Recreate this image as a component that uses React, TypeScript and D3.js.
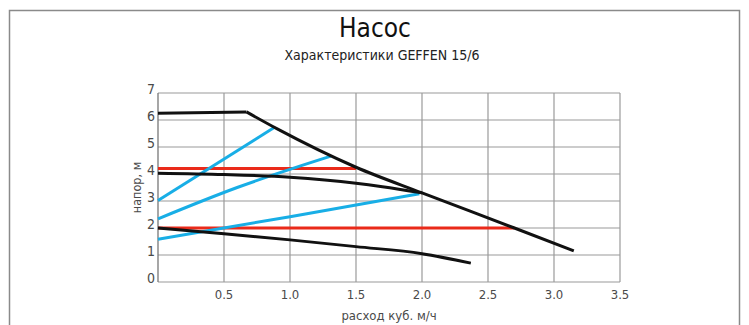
import React from "react";
import * as d3 from "d3";

const xTicks = [0.5, 1.0, 1.5, 2.0, 2.5, 3.0, 3.5];
const yTicks = [0, 1, 2, 3, 4, 5, 6, 7];

const blackMaxFlat: [number, number][] = [[0, 6.25], [0.67, 6.3]];
const blackMaxFall: [number, number][] = [[0.67, 6.3], [0.9, 5.68], [1.5, 4.25], [2.0, 3.3], [2.7, 2.0], [3.15, 1.15]];
const blackMid: [number, number][] = [[0, 4.03], [0.5, 3.98], [1.0, 3.88], [1.5, 3.66], [1.7, 3.53], [2.0, 3.3]];
const blackLow: [number, number][] = [[0, 2.0], [0.5, 1.79], [1.0, 1.56], [1.5, 1.31], [2.0, 1.05], [2.37, 0.7]];
const redHigh: [number, number][] = [[0, 4.2], [1.5, 4.2]];
const redLow: [number, number][] = [[0, 2.0], [2.7, 2.0]];
const blue1: [number, number][] = [[0, 3.02], [0.88, 5.72]];
const blue2: [number, number][] = [[0, 2.34], [0.6, 3.5], [1.31, 4.66]];
const blue3: [number, number][] = [[0, 1.58], [1.0, 2.42], [1.98, 3.27]];

const FONT = "'Liberation Sans Narrow', 'DejaVu Sans Condensed', 'Open Sans', sans-serif";

export default function App() {
  const W = 749, H = 325;
  const x = d3.scaleLinear().domain([0, 3.5]).range([158, 620]);
  const y = d3.scaleLinear().domain([0, 7]).range([282, 93]);
  const line = d3.line<[number, number]>().x(d => x(d[0])).y(d => y(d[1]));
  const smooth = d3.line<[number, number]>().x(d => x(d[0])).y(d => y(d[1])).curve(d3.curveMonotoneX);

  const BLUE = "#18aee6";
  const RED = "#ea2a1a";
  const BLACK = "#111111";
  const LABEL = "#4a4a4a";

  return (
    <svg width={W} height={H} style={{ position: "absolute", left: 0, top: 0, background: "#fff" }}>
      <rect x={9.5} y={10.5} width={730} height={330} fill="none" stroke="#8a8a8a" strokeWidth={1.5} />
      <text x={375} y={37} textAnchor="middle" fontFamily={FONT} fontSize={26} fill="#111">Насос</text>
      <text x={382} y={60} textAnchor="middle" fontFamily={FONT} fontSize={14} fill="#222">Характеристики GEFFEN  15/6</text>

      {/* grid */}
      {xTicks.map(t => (
        <line key={"gx" + t} x1={x(t)} x2={x(t)} y1={y(7)} y2={y(0)} stroke="#9a9a9a" strokeWidth={1.2} />
      ))}
      {yTicks.map(t => (
        <line key={"gy" + t} x1={x(0)} x2={x(3.5)} y1={y(t)} y2={y(t)} stroke="#9a9a9a" strokeWidth={1.2} />
      ))}
      <line x1={x(0)} x2={x(0)} y1={y(7)} y2={y(0)} stroke="#777" strokeWidth={1.3} />

      {/* tick labels */}
      {yTicks.map(t => (
        <text key={"ly" + t} x={x(0) - 3} y={y(t) + 1} textAnchor="end" fontFamily={FONT} fontSize={14} fill={LABEL}>{t}</text>
      ))}
      {xTicks.map(t => (
        <text key={"lx" + t} x={x(t)} y={y(0) + 17} textAnchor="middle" fontFamily={FONT} fontSize={13} fill={LABEL}>{t.toFixed(1)}</text>
      ))}
      <text transform={`translate(141,${(y(0) + y(7)) / 2}) rotate(-90)`} textAnchor="middle" fontFamily={FONT} fontSize={12.5} fill={LABEL}>напор, м</text>
      <text x={389} y={320} textAnchor="middle" fontFamily={FONT} fontSize={13} fill={LABEL}>расход куб. м/ч</text>

      {/* curves */}
      {[redHigh, redLow].map((d, i) => (
        <path key={"r" + i} d={line(d) || ""} fill="none" stroke={RED} strokeWidth={3} />
      ))}
      {[blue1, blue2, blue3].map((d, i) => (
        <path key={"b" + i} d={smooth(d) || ""} fill="none" stroke={BLUE} strokeWidth={3} />
      ))}
      <path d={line(blackMaxFlat) || ""} fill="none" stroke={BLACK} strokeWidth={3} strokeLinecap="butt" />
      {[blackMaxFall, blackMid, blackLow].map((d, i) => (
        <path key={"k" + i} d={smooth(d) || ""} fill="none" stroke={BLACK} strokeWidth={3} strokeLinejoin="round" />
      ))}
    </svg>
  );
}
